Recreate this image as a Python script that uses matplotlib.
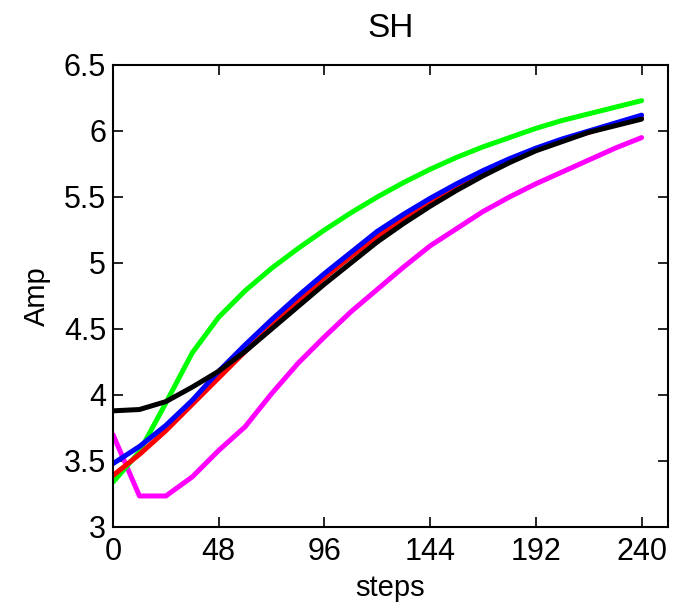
import matplotlib
matplotlib.use("Agg")
import matplotlib.pyplot as plt

steps = [0, 12, 24, 36, 48, 60, 72, 84, 96, 108, 120, 132, 144, 156, 168, 180, 192, 204, 216, 228, 240]

amp_green = [3.34, 3.57, 3.94, 4.32, 4.59, 4.79, 4.96, 5.11, 5.25, 5.38, 5.50, 5.61, 5.71, 5.80, 5.88, 5.95, 6.02, 6.08, 6.13, 6.18, 6.23]
amp_magenta = [3.70, 3.235, 3.235, 3.38, 3.58, 3.76, 4.01, 4.24, 4.44, 4.63, 4.80, 4.97, 5.13, 5.26, 5.39, 5.50, 5.60, 5.69, 5.78, 5.87, 5.95]
amp_red = [3.39, 3.55, 3.73, 3.93, 4.13, 4.33, 4.52, 4.71, 4.89, 5.05, 5.20, 5.34, 5.46, 5.58, 5.68, 5.78, 5.86, 5.93, 5.99, 6.05, 6.10]
amp_blue = [3.48, 3.61, 3.77, 3.96, 4.18, 4.38, 4.57, 4.75, 4.92, 5.08, 5.24, 5.37, 5.49, 5.60, 5.70, 5.79, 5.87, 5.94, 6.00, 6.06, 6.12]
amp_black = [3.88, 3.89, 3.95, 4.06, 4.18, 4.33, 4.50, 4.67, 4.84, 5.00, 5.16, 5.30, 5.43, 5.55, 5.66, 5.76, 5.85, 5.92, 5.99, 6.04, 6.09]

x_ticks = [0, 48, 96, 144, 192, 240]
y_ticks = [3, 3.5, 4, 4.5, 5, 5.5, 6, 6.5]
y_tick_labels = ["3", "3.5", "4", "4.5", "5", "5.5", "6", "6.5"]

plt.rcParams["font.family"] = ["Liberation Sans", "DejaVu Sans"]

fig = plt.figure(figsize=(6.78, 6.06), dpi=100)
ax = fig.add_axes([113 / 678, 79 / 606, 555 / 678, 462 / 606])

lw = 3.6
ax.plot(steps, amp_magenta, color="#ff00ff", lw=lw, solid_capstyle="round")
ax.plot(steps, amp_green, color="#00ff00", lw=lw, solid_capstyle="round")
ax.plot(steps, amp_red, color="#ff0000", lw=lw, solid_capstyle="round")
ax.plot(steps, amp_blue, color="#0000ff", lw=lw, solid_capstyle="round")
ax.plot(steps, amp_black, color="#000000", lw=lw, solid_capstyle="round")

ax.set_xlim(0, 252)
ax.set_ylim(3, 6.5)
ax.set_xticks(x_ticks)
ax.set_yticks(y_ticks)
ax.set_yticklabels(y_tick_labels)
ax.tick_params(direction="in", top=True, right=True, length=7, width=1.2,
               labelsize=22, pad=7)
ax.tick_params(axis="y", pad=5)
for spine in ax.spines.values():
    spine.set_linewidth(1.5)

ax.set_xlabel("steps", fontsize=21, labelpad=5)
ax.set_ylabel("Amp", fontsize=21, labelpad=9)
ax.set_title("SH", fontsize=24, pad=20)

fig.savefig("out.png", dpi=100)
